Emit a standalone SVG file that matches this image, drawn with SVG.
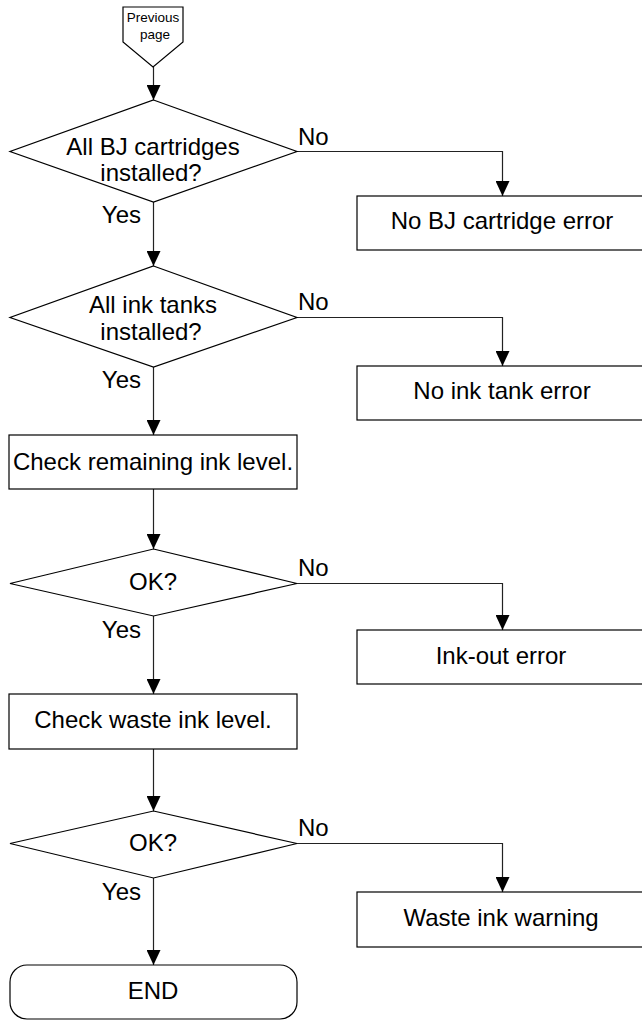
<svg xmlns="http://www.w3.org/2000/svg" width="642" height="1020" viewBox="0 0 642 1020">
<style>
  .shape { fill: #ffffff; stroke: #000000; stroke-width: 1.2; }
  .conn { fill: none; stroke: #222222; stroke-width: 1.2; }
  .t { font-family: "Liberation Sans", Arial, sans-serif; font-size: 24px; fill: #000000; text-anchor: middle; }
  .lbl { font-family: "Liberation Sans", Arial, sans-serif; font-size: 24px; fill: #000000; }
  .small { font-family: "Liberation Sans", Arial, sans-serif; font-size: 13.5px; fill: #000000; text-anchor: middle; }
</style>
<defs>
  <marker id="arrow" markerUnits="userSpaceOnUse" markerWidth="16" markerHeight="14" refX="15" refY="7" orient="auto">
    <path d="M0,0 L15,7 L0,14 z" fill="#000000"/>
  </marker>
</defs>
<rect x="0" y="0" width="642" height="1020" fill="#ffffff"/>

<g id="connectors">
  <line class="conn" x1="153.5" y1="67" x2="153.5" y2="100" marker-end="url(#arrow)"/>
  <line class="conn" x1="153.5" y1="202" x2="153.5" y2="266" marker-end="url(#arrow)"/>
  <line class="conn" x1="153.5" y1="367" x2="153.5" y2="435" marker-end="url(#arrow)"/>
  <line class="conn" x1="153.5" y1="489" x2="153.5" y2="549" marker-end="url(#arrow)"/>
  <line class="conn" x1="153.5" y1="616" x2="153.5" y2="694" marker-end="url(#arrow)"/>
  <line class="conn" x1="153.5" y1="749" x2="153.5" y2="811" marker-end="url(#arrow)"/>
  <line class="conn" x1="153.5" y1="878" x2="153.5" y2="965" marker-end="url(#arrow)"/>
  <polyline class="conn" points="297,151.5 502.5,151.5 502.5,196" marker-end="url(#arrow)"/>
  <polyline class="conn" points="297,317.5 502.5,317.5 502.5,366" marker-end="url(#arrow)"/>
  <polyline class="conn" points="297,583.5 502.5,583.5 502.5,630" marker-end="url(#arrow)"/>
  <polyline class="conn" points="297,843.5 502.5,843.5 502.5,892" marker-end="url(#arrow)"/>
  <text class="lbl" x="298" y="145">No</text>
  <text class="lbl" x="298" y="310">No</text>
  <text class="lbl" x="298" y="576">No</text>
  <text class="lbl" x="298" y="836">No</text>
  <text class="lbl" x="141" y="223" text-anchor="end">Yes</text>
  <text class="lbl" x="141" y="388" text-anchor="end">Yes</text>
  <text class="lbl" x="141" y="638" text-anchor="end">Yes</text>
  <text class="lbl" x="141" y="900" text-anchor="end">Yes</text>
</g>

<g id="previous-page">
  <polygon class="shape" points="123,7 183,7 183,42 153,67 123,42"/>
  <text class="small" x="153" y="22">Previous</text>
  <text class="small" x="155" y="39">page</text>
</g>

<g id="d-cartridges">
  <polygon class="shape" points="153.5,100 297,151.5 153.5,202 10,151.5"/>
  <text class="t" x="153" y="155">All BJ cartridges</text>
  <text class="t" x="151" y="181">installed?</text>
</g>

<g id="e-cartridge">
  <rect class="shape" x="357" y="196" width="292" height="54"/>
  <text class="t" x="502" y="229">No BJ cartridge error</text>
</g>

<g id="d-inktanks">
  <polygon class="shape" points="153.5,266 297,317.5 153.5,367 10,317.5"/>
  <text class="t" x="153" y="313">All ink tanks</text>
  <text class="t" x="151" y="340">installed?</text>
</g>

<g id="e-inktank">
  <rect class="shape" x="357" y="366" width="292" height="54"/>
  <text class="t" x="502" y="399">No ink tank error</text>
</g>

<g id="p-remaining">
  <rect class="shape" x="9" y="435" width="288" height="54"/>
  <text class="t" x="153" y="470">Check remaining ink level.</text>
</g>

<g id="d-ok1">
  <polygon class="shape" points="153.5,549 297,583.5 153.5,616 10,583.5"/>
  <text class="t" x="153" y="590">OK?</text>
</g>

<g id="e-inkout">
  <rect class="shape" x="357" y="630" width="292" height="54"/>
  <text class="t" x="501" y="664">Ink-out error</text>
</g>

<g id="p-waste">
  <rect class="shape" x="9" y="694" width="288" height="55"/>
  <text class="t" x="153" y="728">Check waste ink level.</text>
</g>

<g id="d-ok2">
  <polygon class="shape" points="153.5,811 297,843.5 153.5,878 10,843.5"/>
  <text class="t" x="153" y="851">OK?</text>
</g>

<g id="w-waste">
  <rect class="shape" x="357" y="892" width="292" height="55"/>
  <text class="t" x="501" y="926">Waste ink warning</text>
</g>

<g id="end">
  <rect class="shape" x="10" y="965" width="287" height="54" rx="17" ry="17"/>
  <text class="t" x="153" y="999">END</text>
</g>
</svg>
